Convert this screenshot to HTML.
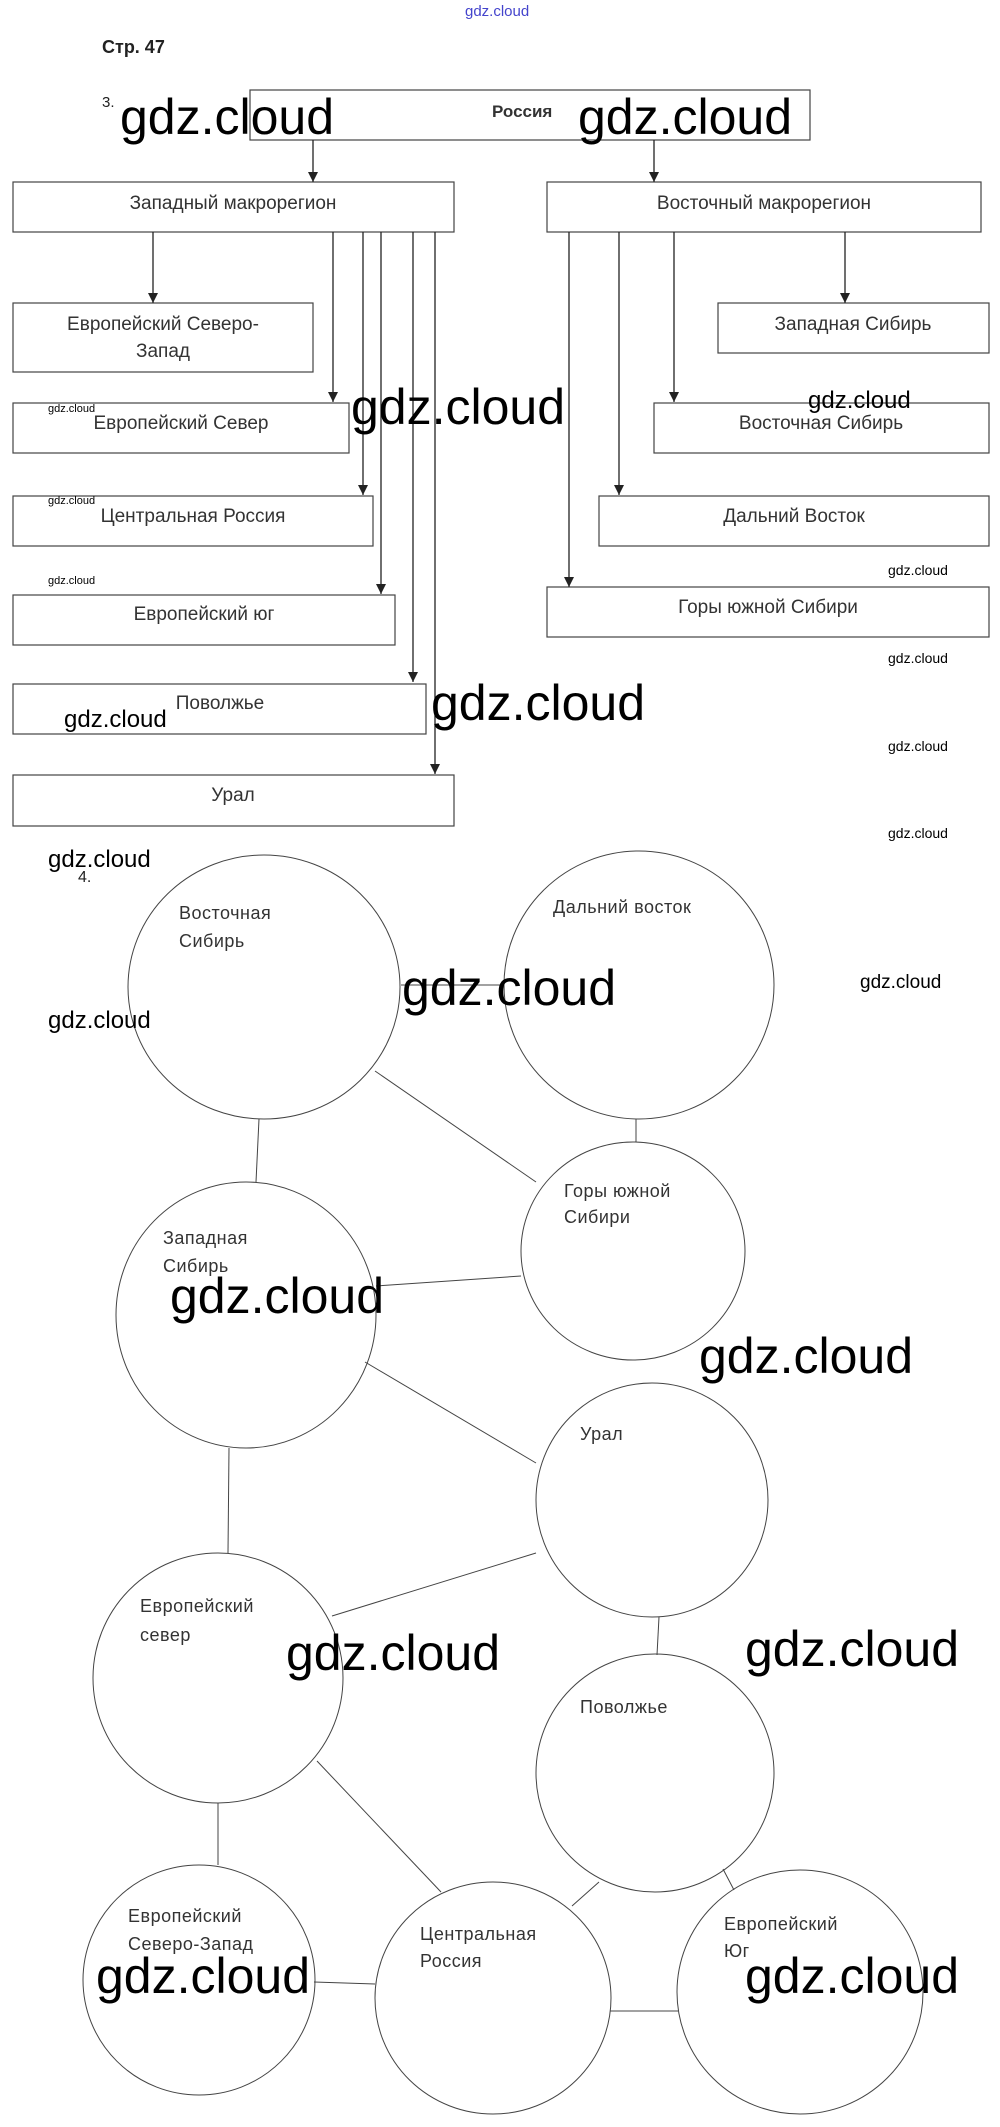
<!DOCTYPE html>
<html><head><meta charset="utf-8"><style>
html,body{margin:0;padding:0;background:#fff;}
svg{display:block;}
.t{font-family:"Liberation Sans",Arial,sans-serif;font-size:19px;fill:#333;}
.c{font-family:"Liberation Sans",Arial,sans-serif;font-size:18px;fill:#333;letter-spacing:0.5px;}
.w{font-family:"Liberation Sans",sans-serif;fill:#000;}
</style></head><body>
<svg width="1000" height="2127" viewBox="0 0 1000 2127" xmlns="http://www.w3.org/2000/svg">
<defs><marker id="a" markerWidth="10" markerHeight="10" refX="5" refY="9" orient="auto" markerUnits="userSpaceOnUse"><path d="M0,0 L10,0 L5,10 z" fill="#222" transform="rotate(-90 5 5)"/></marker>
<marker id="d" markerWidth="10" markerHeight="10" refX="5" refY="10" markerUnits="userSpaceOnUse"><path d="M0,0 L10,0 L5,10 z" fill="#222"/></marker></defs>
<text x="465" y="16" font-family="Liberation Sans,sans-serif" font-size="15" fill="#44c">gdz.cloud</text>
<text x="102" y="53" font-family="Liberation Sans,sans-serif" font-size="18" font-weight="bold" fill="#222">Стр. 47</text>
<text x="102" y="107" font-family="Liberation Sans,sans-serif" font-size="15" fill="#222">3.</text>
<g fill="#fff" stroke="#444" stroke-width="1.2">
<rect x="250" y="90" width="560" height="50"/>
<rect x="13" y="182" width="441" height="50"/>
<rect x="547" y="182" width="434" height="50"/>
<rect x="13" y="303" width="300" height="69"/>
<rect x="13" y="403" width="336" height="50"/>
<rect x="13" y="496" width="360" height="50"/>
<rect x="13" y="595" width="382" height="50"/>
<rect x="13" y="684" width="413" height="50"/>
<rect x="13" y="775" width="441" height="51"/>
<rect x="718" y="303" width="271" height="50"/>
<rect x="654" y="403" width="335" height="50"/>
<rect x="599" y="496" width="390" height="50"/>
<rect x="547" y="587" width="442" height="50"/>
</g>
<g stroke="#222" stroke-width="1.3" marker-end="url(#d)">
<line x1="313" y1="140" x2="313" y2="182"/>
<line x1="654" y1="140" x2="654" y2="182"/>
<line x1="153" y1="232" x2="153" y2="303"/>
<line x1="333" y1="232" x2="333" y2="402"/>
<line x1="363" y1="232" x2="363" y2="495"/>
<line x1="381" y1="232" x2="381" y2="594"/>
<line x1="413" y1="232" x2="413" y2="682"/>
<line x1="435" y1="232" x2="435" y2="774"/>
<line x1="845" y1="232" x2="845" y2="303"/>
<line x1="674" y1="232" x2="674" y2="402"/>
<line x1="619" y1="232" x2="619" y2="495"/>
<line x1="569" y1="232" x2="569" y2="587"/>
</g>
<text x="492" y="117" font-family="Liberation Sans,sans-serif" font-size="17" font-weight="bold" fill="#333">Россия</text>
<g class="t" text-anchor="middle">
<text x="233" y="209">Западный макрорегион</text>
<text x="764" y="209">Восточный макрорегион</text>
<text x="163" y="330">Европейский Северо-</text>
<text x="163" y="357">Запад</text>
<text x="181" y="429">Европейский Север</text>
<text x="193" y="522">Центральная Россия</text>
<text x="204" y="620">Европейский юг</text>
<text x="220" y="709">Поволжье</text>
<text x="233" y="801">Урал</text>
<text x="853" y="330">Западная Сибирь</text>
<text x="821" y="429">Восточная Сибирь</text>
<text x="794" y="522">Дальний Восток</text>
<text x="768" y="613">Горы южной Сибири</text>
</g>
<!-- circles -->
<g fill="none" stroke="#444" stroke-width="1">
<line x1="401" y1="985" x2="504" y2="985"/>
<line x1="375" y1="1071" x2="536" y2="1182"/>
<line x1="259" y1="1119" x2="256" y2="1182"/>
<line x1="636" y1="1119" x2="636" y2="1142"/>
<line x1="376" y1="1286" x2="521" y2="1276"/>
<line x1="365" y1="1362" x2="536" y2="1463"/>
<line x1="229" y1="1448" x2="228" y2="1553"/>
<line x1="332" y1="1616" x2="536" y2="1553"/>
<line x1="659" y1="1617" x2="657" y2="1655"/>
<line x1="317" y1="1761" x2="441" y2="1892"/>
<line x1="218" y1="1803" x2="218" y2="1865"/>
<line x1="314" y1="1982" x2="375" y2="1984"/>
<line x1="572" y1="1906" x2="599" y2="1882"/>
<line x1="723" y1="1869" x2="734" y2="1890"/>
<line x1="610" y1="2011" x2="678" y2="2011"/>
<ellipse cx="264" cy="987" rx="136" ry="132"/>
<ellipse cx="639" cy="985" rx="135" ry="134"/>
<ellipse cx="633" cy="1251" rx="112" ry="109"/>
<ellipse cx="246" cy="1315" rx="130" ry="133"/>
<ellipse cx="652" cy="1500" rx="116" ry="117"/>
<ellipse cx="218" cy="1678" rx="125" ry="125"/>
<ellipse cx="655" cy="1773" rx="119" ry="119"/>
<ellipse cx="199" cy="1980" rx="116" ry="115"/>
<ellipse cx="493" cy="1998" rx="118" ry="116"/>
<ellipse cx="800" cy="1992" rx="123" ry="122"/>
</g>
<g class="c">
<text x="179" y="919">Восточная</text><text x="179" y="947">Сибирь</text>
<text x="553" y="913">Дальний восток</text>
<text x="564" y="1197">Горы южной</text><text x="564" y="1223">Сибири</text>
<text x="163" y="1244">Западная</text><text x="163" y="1272">Сибирь</text>
<text x="580" y="1440">Урал</text>
<text x="140" y="1612">Европейский</text><text x="140" y="1641">север</text>
<text x="580" y="1713">Поволжье</text>
<text x="128" y="1922">Европейский</text><text x="128" y="1950">Северо-Запад</text>
<text x="420" y="1940">Центральная</text><text x="420" y="1967">Россия</text>
<text x="724" y="1930">Европейский</text><text x="724" y="1957">Юг</text>
</g>
<text x="78" y="882" font-family="Liberation Sans,sans-serif" font-size="16" fill="#222">4.</text>
<!-- watermarks -->
<g class="w" font-size="50">
<text x="120" y="134">gdz.cloud</text>
<text x="578" y="134">gdz.cloud</text>
<text x="351" y="424">gdz.cloud</text>
<text x="431" y="720">gdz.cloud</text>
<text x="402" y="1005">gdz.cloud</text>
<text x="170" y="1313">gdz.cloud</text>
<text x="699" y="1373">gdz.cloud</text>
<text x="286" y="1670">gdz.cloud</text>
<text x="745" y="1666">gdz.cloud</text>
<text x="96" y="1993">gdz.cloud</text>
<text x="745" y="1993">gdz.cloud</text>
</g>
<g class="w" font-size="24">
<text x="808" y="408">gdz.cloud</text>
<text x="64" y="727">gdz.cloud</text>
<text x="48" y="867">gdz.cloud</text>
<text x="48" y="1028">gdz.cloud</text>
</g>
<g class="w" font-size="19"><text x="860" y="988">gdz.cloud</text></g>
<g class="w" font-size="14">
<text x="888" y="575">gdz.cloud</text>
<text x="888" y="663">gdz.cloud</text>
<text x="888" y="751">gdz.cloud</text>
<text x="888" y="838">gdz.cloud</text>
</g>
<g class="w" font-size="11">
<text x="48" y="412">gdz.cloud</text>
<text x="48" y="504">gdz.cloud</text>
<text x="48" y="584">gdz.cloud</text>
</g>
</svg>
</body></html>
